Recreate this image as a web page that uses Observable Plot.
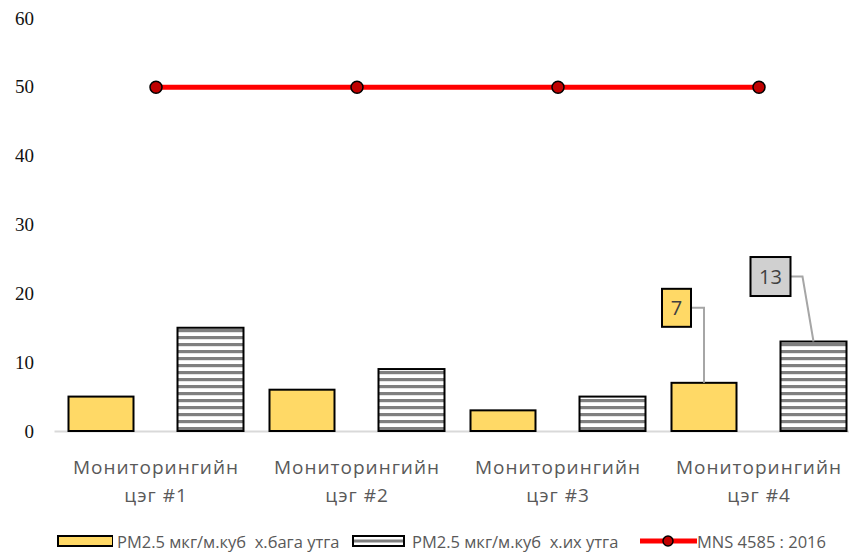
<!DOCTYPE html>
<html>
<head>
<meta charset="utf-8">
<script src="https://cdn.jsdelivr.net/npm/d3@7"></script>
<script src="https://cdn.jsdelivr.net/npm/@observablehq/plot@0.6"></script>
<style>
  body { margin: 0; background: #fff; }
  #wrap { position: relative; width: 849px; height: 556px; }
  #legend { position: absolute; left: 0; top: 527px; width: 849px; height: 28px;
    font-family: "Open Sans", Arial, sans-serif; font-size: 16.5px; color: #595959; }
  #legend .it { position: absolute; top: 0; height: 28px; display: flex; align-items: center; white-space: pre; }
  #legend svg { display: block; }
</style>
</head>
<body>
<div id="wrap"><div id="chart"></div><div id="legend"></div></div>
<script>
const categories = ["Мониторингийн\nцэг #1", "Мониторингийн\nцэг #2", "Мониторингийн\nцэг #3", "Мониторингийн\nцэг #4"];
const lowValues = [5, 6, 3, 7];
const highValues = [15, 9, 5, 13];
const standardValues = [50, 50, 50, 50];
const yTicks = [0, 10, 20, 30, 40, 50, 60];
const seriesNames = ["PM2.5 мкг/м.куб  х.бага утга", "PM2.5 мкг/м.куб  х.их утга", "MNS 4585 : 2016"];
const calloutIndex = 3;

const low = categories.map((c, i) => ({cat: c, value: lowValues[i]}));
const high = categories.map((c, i) => ({cat: c, value: highValues[i]}));
const standard = categories.map((c, i) => ({cat: c, value: standardValues[i]}));

const YELLOW = "#ffd966";

function callouts(index, scales) {
  const x = scales.x, y = scales.y;
  const bw = x.bandwidth();
  const g = d3.create("svg:g");
  const cat = categories[calloutIndex];
  const lx = x(cat) + 13.5 + (bw - 13.5 - 122.5) / 2;
  const ly = y(lowValues[calloutIndex]);
  const hx = x(cat) + 122.5 + (bw - 122.5 - 12.5) / 2;
  const hy = y(highValues[calloutIndex]);
  g.append("path").attr("d", `M${lx - 13},${ly - 75}H${lx}V${ly}`)
    .attr("fill", "none").attr("stroke", "#a6a6a6").attr("stroke-width", 2);
  g.append("path").attr("d", `M${hx - 23},${hy - 65}H${hx - 11}L${hx},${hy}`)
    .attr("fill", "none").attr("stroke", "#a6a6a6").attr("stroke-width", 2);
  g.append("rect").attr("x", lx - 42).attr("y", ly - 94).attr("width", 29).attr("height", 38)
    .attr("fill", YELLOW).attr("stroke", "#000").attr("stroke-width", 2);
  g.append("text").attr("x", lx - 27.5).attr("y", ly - 75).attr("dy", "0.36em")
    .attr("text-anchor", "middle").attr("font-size", 20).attr("fill", "#404040")
    .attr("font-family", "'Open Sans', Arial, sans-serif").text(String(lowValues[calloutIndex]));
  g.append("rect").attr("x", hx - 63).attr("y", hy - 84.5).attr("width", 40).attr("height", 39)
    .attr("fill", "#d0d0d0").attr("stroke", "#000").attr("stroke-width", 2);
  g.append("text").attr("x", hx - 43).attr("y", hy - 65).attr("dy", "0.36em")
    .attr("text-anchor", "middle").attr("font-size", 20).attr("fill", "#404040")
    .attr("font-family", "'Open Sans', Arial, sans-serif").text(String(highValues[calloutIndex]));
  return g.node();
}

const chart = Plot.plot({
  width: 849,
  height: 522,
  marginTop: 18,
  marginBottom: 91,
  marginLeft: 54.5,
  marginRight: 0,
  x: {type: "band", domain: categories, range: [54.5, 859.5], padding: 0, axis: null},
  y: {domain: [0, 60], range: [431, 18], axis: null},
  style: {background: "#fff", overflow: "hidden"},
  marks: [
    Plot.ruleY([0], {stroke: "#d9d9d9", strokeWidth: 2}),
    Plot.barY(low, {x: "cat", y: "value", fill: YELLOW, stroke: "#000", strokeWidth: 2, insetLeft: 13.5, insetRight: 122.5}),
    Plot.barY(high, {x: "cat", y: "value", fill: "url(#hstripes)", stroke: "#000", strokeWidth: 2, insetLeft: 122.5, insetRight: 12.5}),
    Plot.line(standard, {x: "cat", y: "value", stroke: "#ff0000", strokeWidth: 5}),
    Plot.dot(standard, {x: "cat", y: "value", r: 6, fill: "#c00000", stroke: "#000", strokeWidth: 1.5}),
    Plot.text(yTicks, {x: null, y: d => d, text: d => String(d), frameAnchor: "left", textAnchor: "end", dx: -21,
      fontSize: 19, fill: "#111", fontFamily: "'Liberation Serif', 'Times New Roman', serif"}),
    Plot.text(categories, {x: d => d, text: d => d, frameAnchor: "bottom", lineAnchor: "top", dy: 23,
      lineHeight: 1.45, fontSize: 19, fill: "#595959", fontFamily: "'Open Sans', Arial, sans-serif"}),
    callouts
  ]
});

// letter spacing for category labels
d3.select(chart).selectAll("text").filter(function() { return this.textContent.startsWith("Мониторингийн"); })
  .style("letter-spacing", "1px");

const defs = d3.select(chart).insert("defs", ":first-child");
const pat = defs.append("pattern").attr("id", "hstripes").attr("patternUnits", "userSpaceOnUse")
  .attr("x", 0).attr("y", 0).attr("width", 8).attr("height", 7);
pat.append("rect").attr("width", 8).attr("height", 7).attr("fill", "#fff");
pat.append("rect").attr("y", 0).attr("width", 8).attr("height", 3.2).attr("fill", "#7f7f7f");

document.getElementById("chart").appendChild(chart);

const legend = d3.select("#legend");
const items = [
  {left: 57, text: seriesNames[0], kind: "yellow"},
  {left: 352, text: seriesNames[1], kind: "stripes"},
  {left: 639, text: seriesNames[2], kind: "line"}
];
for (const it of items) {
  const div = legend.append("div").attr("class", "it").style("left", it.left + "px");
  const sw = div.append("svg").attr("width", it.kind === "line" ? 58 : 56).attr("height", 16);
  if (it.kind === "yellow") {
    sw.append("rect").attr("x", 1).attr("y", 3).attr("width", 55).attr("height", 10).attr("fill", YELLOW).attr("stroke", "#000").attr("stroke-width", 2);
  } else if (it.kind === "stripes") {
    sw.append("rect").attr("x", 1).attr("y", 3).attr("width", 51).attr("height", 10).attr("fill", "#fff").attr("stroke", "#000").attr("stroke-width", 2);
    sw.append("rect").attr("x", 2).attr("y", 6.5).attr("width", 49).attr("height", 3).attr("fill", "#7f7f7f");
  } else {
    sw.append("line").attr("x1", 1).attr("x2", 58).attr("y1", 8).attr("y2", 8).attr("stroke", "#ff0000").attr("stroke-width", 5);
    sw.append("circle").attr("cx", 29).attr("cy", 8).attr("r", 5).attr("fill", "#c00000").attr("stroke", "#000").attr("stroke-width", 1.5);
  }
  div.append("span").style("margin-left", it.kind === "line" ? "0px" : "4px").text(it.text);
}
</script>
</body>
</html>
